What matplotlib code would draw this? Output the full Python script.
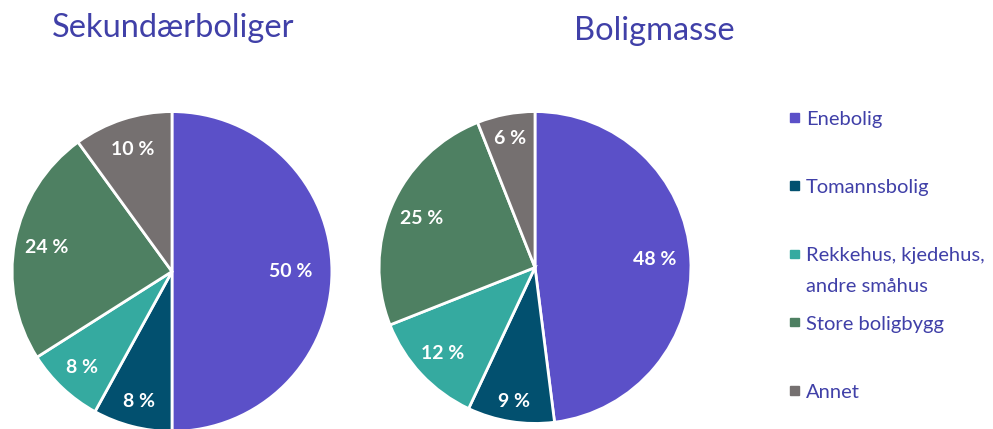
import matplotlib
matplotlib.use("Agg")
import matplotlib.pyplot as plt
import numpy as np
from matplotlib.patches import Rectangle

plt.rcParams['font.family'] = ['Lato', 'DejaVu Sans']

# Data
kategorier = ['Enebolig', 'Tomannsbolig', 'Rekkehus, kjedehus,\nandre småhus', 'Store boligbygg', 'Annet']
sekundaer = [50, 8, 8, 24, 10]
boligmasse = [48, 9, 12, 25, 6]
farger = ['#5B50C8', '#02506F', '#35AAA0', '#4E8062', '#757070']
titler = ['Sekundærboliger', 'Boligmasse']

W, H = 993, 429
fig = plt.figure(figsize=(W / 100, H / 100), dpi=100)
tekstfarge = '#4040A8'


def pie_axes(cx, cy, r):
    # cx, cy, r in pixels (y from top)
    return fig.add_axes([(cx - r) / W, (H - cy - r) / H, 2 * r / W, 2 * r / H])


def tegn_pie(ax, verdier, avstand):
    wedges, _ = ax.pie(
        verdier, colors=farger, startangle=90, counterclock=False,
        wedgeprops=dict(edgecolor='white', linewidth=2))
    for w, v, d in zip(wedges, verdier, avstand):
        vinkel = np.deg2rad((w.theta1 + w.theta2) / 2)
        ax.text(d * np.cos(vinkel), d * np.sin(vinkel), f'{v} %', ha='center', va='center',
                color='white', fontsize=14, fontweight='bold')
        w.set_clip_on(False)
    ax.set_xlim(-1.01, 1.01)
    ax.set_ylim(-1.01, 1.01)
    ax.set_aspect('equal')
    ax.axis('off')


ax1 = pie_axes(172, 271.5, 161.5)
tegn_pie(ax1, sekundaer, [0.74, 0.84, 0.82, 0.80, 0.80])
ax2 = pie_axes(535, 267.5, 157.5)
tegn_pie(ax2, boligmasse, [0.77, 0.87, 0.81, 0.79, 0.84])

fig.text(173 / W, 1 - 37 / H, titler[0], ha='center', va='baseline',
         fontsize=23.5, color=tekstfarge)
fig.text(654 / W, 1 - 40 / H, titler[1], ha='center', va='baseline',
         fontsize=23.5, color=tekstfarge)

# Legend
for i, (navn, farge) in enumerate(zip(kategorier, farger)):
    y = 125 + 68.25 * i
    fig.patches.append(Rectangle((790 / W, 1 - (y - 3.5) / H), 8.5 / W, 8.5 / H,
                                 transform=fig.transFigure, color=farge))
    linjer = navn.split('\n')
    for j, linje in enumerate(linjer):
        fig.text(806 / W, 1 - (y + 30 * j) / H, linje, ha='left', va='baseline',
                 fontsize=14.5, color=tekstfarge)

fig.savefig('out.png', dpi=100)
